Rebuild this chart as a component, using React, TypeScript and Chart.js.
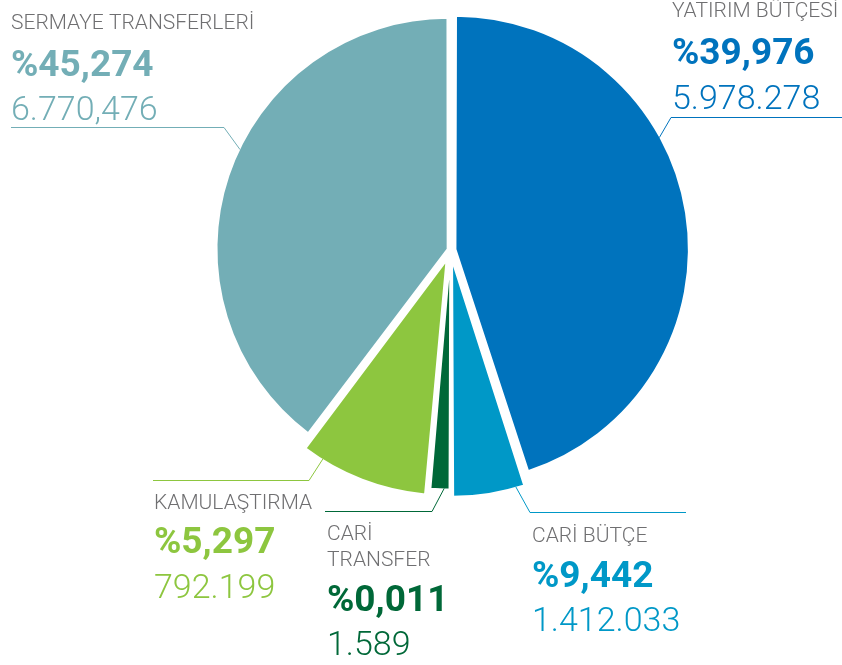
import React, { useEffect, useRef } from "react";
import { Chart, registerables } from "chart.js";

Chart.register(...registerables);

// ---- data ----
const categories = ["YATIRIM BÜTÇESİ", "CARİ BÜTÇE", "CARİ TRANSFER", "KAMULAŞTIRMA", "SERMAYE TRANSFERLERİ"];
const nameLines = [["YATIRIM BÜTÇESİ"], ["CARİ BÜTÇE"], ["CARİ", "TRANSFER"], ["KAMULAŞTIRMA"], ["SERMAYE TRANSFERLERİ"]];
const percentLabels = ["%39,976", "%9,442", "%0,011", "%5,297", "%45,274"];
const amountLabels = ["5.978.278", "1.412.033", "1.589", "792.199", "6.770,476"];
// slice sizes as they are drawn in the picture (share of the full circle, %)
const sliceShares = [45.0, 5.0, 1.4, 8.9, 39.7];

// ---- styles / layout ----
const sliceColors = ["#0073bd", "#0098c7", "#006838", "#8dc63f", "#73aeb6"];
const sliceOffsets = [20, 40, 20, 44, 12];
const nameColor = "#6f6f71";

type Layout = {
  x: number;
  nameBase: number[];
  pctBase: number;
  amtBase: number;
  lineY: number;
  lineFrom: number;
  lineTo: number;
  elbowX: number;
  anchorDeg: number;
};

const layouts: Layout[] = [
  { x: 672, nameBase: [17], pctBase: 63.5, amtBase: 108.5, lineY: 117.5, lineFrom: 671, lineTo: 842, elbowX: 671, anchorDeg: 61.3 },
  { x: 532, nameBase: [541.7], pctBase: 586.7, amtBase: 630.7, lineY: 512.5, lineFrom: 530, lineTo: 686, elbowX: 530, anchorDeg: 164.3 },
  { x: 327, nameBase: [540, 565.7], pctBase: 610.7, amtBase: 655, lineY: 511.5, lineFrom: 325, lineTo: 432, elbowX: 432, anchorDeg: 181.5 },
  { x: 154, nameBase: [509.3], pctBase: 552.7, amtBase: 598.3, lineY: 480.5, lineFrom: 153, lineTo: 309, elbowX: 309, anchorDeg: 211.9 },
  { x: 11, nameBase: [29], pctBase: 76, amtBase: 119.5, lineY: 127.5, lineFrom: 11, lineTo: 224, elbowX: 224, anchorDeg: 295.6 },
];

const labelPlugin = {
  id: "sliceLabels",
  afterDatasetsDraw(chart: any) {
    const ctx: CanvasRenderingContext2D = chart.ctx;
    const meta = chart.getDatasetMeta(0);
    ctx.save();
    meta.data.forEach((arc: any, i: number) => {
      const L = layouts[i];
      const color = sliceColors[i];
      const o = arc.options;
      const t = (o.offset || 0) / 4;
      const half = (arc.startAngle + arc.endAngle) / 2;
      const cx = arc.x + Math.cos(half) * t;
      const cy = arc.y + Math.sin(half) * t;
      const circ = arc.endAngle - arc.startAngle;
      const fix = 1 - Math.sin(Math.min(Math.PI, circ));
      const R = arc.outerRadius + t * fix - (o.borderWidth || 0) / 2;
      const a = ((L.anchorDeg - 90) * Math.PI) / 180;
      const ax = cx + R * Math.cos(a);
      const ay = cy + R * Math.sin(a);

      // leader line
      ctx.strokeStyle = color;
      ctx.lineWidth = 1;
      ctx.beginPath();
      const otherEnd = L.elbowX === L.lineFrom ? L.lineTo : L.lineFrom;
      ctx.moveTo(otherEnd, L.lineY);
      ctx.lineTo(L.elbowX, L.lineY);
      ctx.lineTo(ax, ay);
      ctx.stroke();

      // texts
      ctx.textAlign = "left";
      ctx.textBaseline = "alphabetic";
      ctx.fillStyle = nameColor;
      ctx.font = "300 21px Roboto";
      nameLines[i].forEach((ln, k) => ctx.fillText(ln, L.x, L.nameBase[k]));
      ctx.fillStyle = color;
      ctx.font = "700 37px Roboto";
      ctx.fillText(percentLabels[i], L.x, L.pctBase);
      ctx.font = "300 34px Roboto";
      ctx.fillText(amountLabels[i], L.x, L.amtBase);
    });
    ctx.restore();
  },
};

export default function App() {
  const ref = useRef<HTMLCanvasElement | null>(null);
  useEffect(() => {
    if (!ref.current) return;
    const chart = new Chart(ref.current, {
      type: "pie",
      data: {
        labels: categories,
        datasets: [
          {
            data: sliceShares,
            backgroundColor: sliceColors,
            borderColor: "#ffffff",
            borderWidth: 2,
            offset: sliceOffsets,
            radius: 230,
            clip: false,
          } as any,
        ],
      },
      options: {
        responsive: false,
        animation: false,
        events: [],
        layout: { padding: { left: 59, right: 0, top: 0, bottom: 165 } },
        plugins: { legend: { display: false }, tooltip: { enabled: false } },
      },
      plugins: [labelPlugin],
    });
    return () => chart.destroy();
  }, []);
  return (
    <div style={{ position: "fixed", left: 0, top: 0, width: 842, height: 665, background: "#ffffff" }}>
      <canvas ref={ref} width={842} height={665} style={{ display: "block" }} />
    </div>
  );
}
